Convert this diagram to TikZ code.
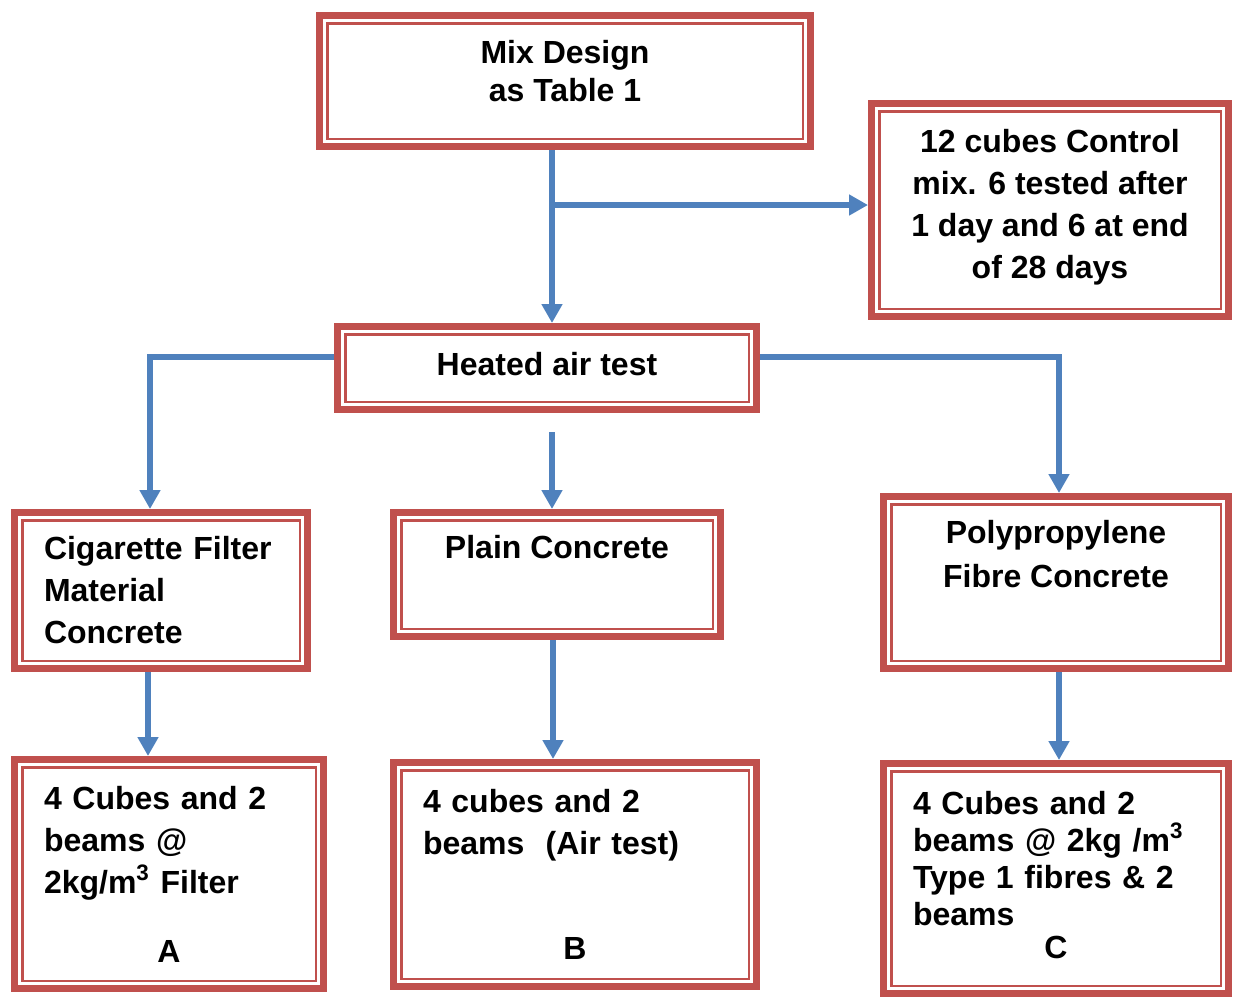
\documentclass[tikz,border=0pt]{standalone}
\usepackage{fontspec}
\setmainfont{Liberation Sans}
\usepackage{tikz}
\usetikzlibrary{arrows.meta}
\definecolor{boxred}{RGB}{192,80,77}
\definecolor{lineblue}{RGB}{79,129,189}
\tikzstyle{process} = [rectangle, draw=boxred, line width=3.5pt, align=center, font=\bfseries\fontsize{16pt}{21pt}\selectfont, path picture={\draw [boxred, line width=1.2pt] ([shift={(3.9pt,3.9pt)}]path picture bounding box.south west) rectangle ([shift={(-3.9pt,-3.9pt)}]path picture bounding box.north east);}]
\tikzstyle{leftbox} = [process, align=left]
\tikzstyle{arrow} = [line width=2.8pt, draw=lineblue, -{Triangle[length=9.5pt,width=10pt]}]
\newcommand{\midline}[1]{\hbox to \hsize{\hss #1\hss}}

\begin{document}
\begin{tikzpicture}[x=0.5pt, y=-0.5pt]
\useasboundingbox (0,0) rectangle (1233,998);
\node (MD) [process, minimum width=245.5pt, minimum height=65.5pt, font=\bfseries\fontsize{16pt}{19pt}\selectfont] at (565,81) {Mix Design\\as Table 1\rule[-10pt]{0pt}{10pt}};
\node (CT) [process, minimum width=178.5pt, minimum height=106.5pt] at (1050,210) {12 cubes Control\\mix. 6 tested after\\1 day and 6 at end\\of 28 days\rule[-6pt]{0pt}{6pt}};
\node (HA) [process, minimum width=209.5pt, minimum height=41.5pt] at (547,368) {Heated air test\rule[-4pt]{0pt}{4pt}};
\node (CF) [leftbox, text width=117pt, minimum width=146.5pt, minimum height=78pt] at (161,590.5) {Cigarette Filter\\Material\\Concrete};
\node (PC) [process, minimum width=163.5pt, minimum height=62pt] at (557,574.5) {Plain Concrete\\\strut};
\node (PP) [process, minimum width=172.5pt, minimum height=86pt, font=\bfseries\fontsize{16pt}{22pt}\selectfont] at (1056,582.5) {Polypropylene\\Fibre Concrete\\\strut};
\node (A) [leftbox, text width=125pt, minimum width=154.5pt, minimum height=114.5pt] at (169,874) {4 Cubes and 2\\beams @\\2kg/m\textsuperscript{3} Filter\\[13.5pt]\midline{A}};
\node (B) [leftbox, text width=152pt, minimum width=181.5pt, minimum height=112pt] at (575,874.5) {4 cubes and 2\\beams\ \ (Air test)\\[31.5pt]\midline{B}};
\node (C) [leftbox, text width=143pt, minimum width=172.5pt, minimum height=115pt, font=\bfseries\fontsize{16pt}{18.5pt}\selectfont] at (1056,878.5) {4 Cubes and 2\\beams @ 2kg /m\textsuperscript{3}\\Type 1 fibres \& 2\\beams\\[-2pt]\midline{C\rule[-4pt]{0pt}{4pt}}};
% branch points
\coordinate (cont1) at (552,205);
\coordinate (cont2) at (150,357);
\coordinate (cont3) at (1059,357);
\coordinate (cont4) at (552,432);
\coordinate (cont5) at (148,700);
\coordinate (cont6) at (553,700);
\coordinate (cont7) at (1059,700);
\draw [arrow] (MD.south -| cont1) -- (HA.north -| cont1);
\draw [arrow] (cont1) -- (CT.west |- cont1);
\draw [arrow] (HA.west |- cont2) -- (cont2) -- (CF.north -| cont2);
\draw [arrow] (HA.east |- cont3) -- (cont3) -- (PP.north -| cont3);
\draw [arrow] (cont4) -- (PC.north -| cont4);
\draw [arrow] (CF.south -| cont5) -- (A.north -| cont5);
\draw [arrow] (PC.south -| cont6) -- (B.north -| cont6);
\draw [arrow] (PP.south -| cont7) -- (C.north -| cont7);
\end{tikzpicture}
\end{document}
